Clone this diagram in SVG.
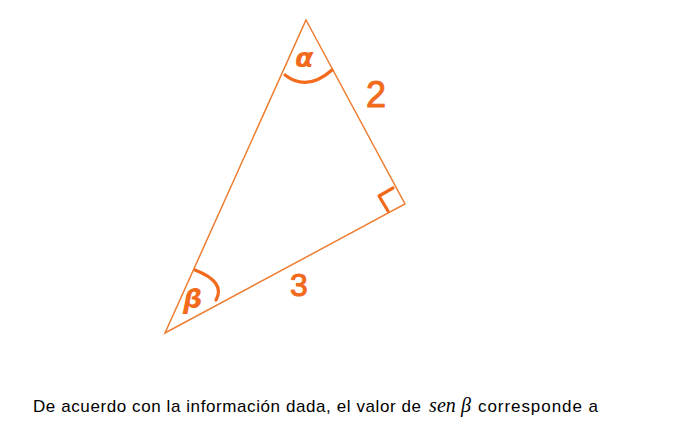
<svg xmlns="http://www.w3.org/2000/svg" width="677" height="436" viewBox="0 0 677 436">
<style>
.edge{fill:none;stroke:#ED7D31;stroke-width:1.5;stroke-linejoin:miter}
.ink{fill:none;stroke:#F26A1B;stroke-width:3.2;stroke-linecap:round;stroke-linejoin:round}
.greek{fill:#F26A1B;font-family:"DejaVu Sans",sans-serif;font-weight:bold;font-style:italic}
.digit{fill:#F26A1B;stroke:#F26A1B;stroke-width:1;font-family:"Liberation Sans",Arial,sans-serif;font-weight:normal}
.body{fill:#000;font-family:"Liberation Sans",Arial,sans-serif;font-size:17px}
.math{fill:#000;font-family:"Liberation Serif","DejaVu Serif",serif;font-style:italic;font-size:20px}
</style>
<rect width="677" height="436" fill="#fff"/>
<g id="connectors">
<path class="edge" d="M306,20 L405,204 L165,333 Z"/>
</g>
<g id="angle-alpha">
<path class="ink" d="M285,75 Q307,92 332,70"/>
<text class="greek" x="295" y="67" font-size="27">α</text>
</g>
<g id="side-2">
<text class="digit" x="366" y="107" font-size="36">2</text>
</g>
<g id="angle-right">
<path class="ink" d="M393,188 L379,196 L388,211" stroke-width="4"/>
</g>
<g id="angle-beta">
<path class="ink" d="M195,270 Q226,282 216,300"/>
<text class="greek" x="183" y="308" font-size="27">β</text>
</g>
<g id="side-3">
<text class="digit" x="290" y="296" font-size="32">3</text>
</g>
<g id="caption">
<text class="body" x="33" y="412" textLength="388" lengthAdjust="spacing">De acuerdo con la información dada, el valor de</text>
<text class="math" x="429" y="412" textLength="42" lengthAdjust="spacing">sen β</text>
<text class="body" x="478" y="412" textLength="120" lengthAdjust="spacing">corresponde a</text>
</g>
</svg>
